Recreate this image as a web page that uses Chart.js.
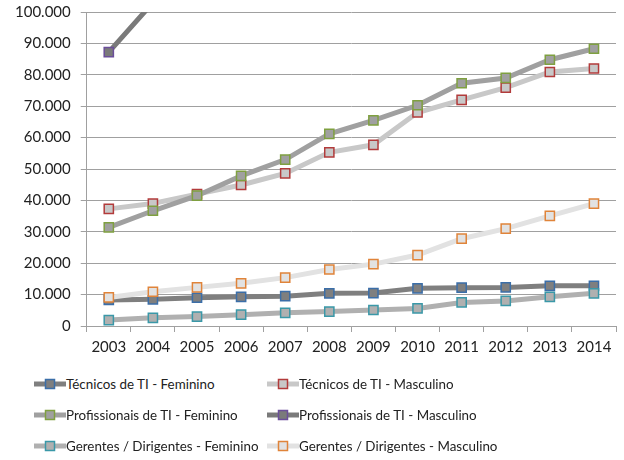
<!DOCTYPE html>
<html>
<head>
<meta charset="utf-8">
<script src="https://cdn.jsdelivr.net/npm/chart.js@4"></script>
<style>
  body { margin: 0; background: #fff; font-family: Lato, "Open Sans", sans-serif; }
  #wrap { position: relative; width: 624px; height: 362px; }
  #legend { display: grid; grid-template-columns: 233px 300px; margin-left: 34px; row-gap: 11px; margin-top: 12px; }
  .item { display: flex; align-items: center; font-size: 13.4px; color: #222; height: 20px; }
  .item canvas { margin-right: 0; }
</style>
</head>
<body>
<div id="wrap"><canvas id="plot"></canvas></div>
<div id="legend"></div>
<script>
const years = ["2003", "2004", "2005", "2006", "2007", "2008", "2009", "2010", "2011", "2012", "2013", "2014"];

const names = [
  "Técnicos de TI - Feminino",
  "Técnicos de TI - Masculino",
  "Profissionais de TI - Feminino",
  "Profissionais de TI - Masculino",
  "Gerentes / Dirigentes - Feminino",
  "Gerentes / Dirigentes - Masculino"
];

const tecFem = [8300, 8500, 9000, 9300, 9500, 10400, 10500, 12000, 12200, 12300, 12800, 12800];
const tecMasc = [37300, 39000, 42000, 44900, 48600, 55300, 57700, 68000, 72000, 75900, 80900, 82000];
const profFem = [31400, 36700, 41500, 47800, 53000, 61200, 65500, 70300, 77300, 79000, 84800, 88300];
const profMasc = [87200, 103000, 115000, 125000, 135000, 150000, 160000, 175000, 185000, 195000, 200000, 210000];
const gerFem = [1900, 2600, 3000, 3600, 4200, 4600, 5100, 5600, 7500, 8000, 9300, 10400];
const gerMasc = [9100, 10900, 12300, 13600, 15400, 18000, 19700, 22600, 27800, 31000, 35100, 39000];

const yTicks = [0, 10000, 20000, 30000, 40000, 50000, 60000, 70000, 80000, 90000, 100000];

const lineColors = ["#7f7f7f", "#c8c8c8", "#a0a0a0", "#7a7a7a", "#b0b0b0", "#e2e2e2"];
const borderColors = ["#3b6ea8", "#b23b3b", "#7fa040", "#6b4e9a", "#3a98a8", "#e0843a"];
const fillColors = ["#7f7f7f", "#c8c8c8", "#a0a0a0", "#7a7a7a", "#b0b0b0", "#e2e2e2"];

const series = [tecFem, tecMasc, profFem, profMasc, gerFem, gerMasc];

const fmt = v => String(v).replace(/\B(?=(\d{3})+(?!\d))/g, ".");

const datasets = series.map((data, i) => ({
  label: names[i],
  data,
  borderColor: lineColors[i],
  borderWidth: 5,
  pointStyle: "rect",
  pointRadius: 6.5,
  pointBorderWidth: 1.5,
  pointBorderColor: borderColors[i],
  pointBackgroundColor: fillColors[i],
  tension: 0,
  order: 6 - i
}));

const ctx = document.querySelector("#plot").getContext("2d");
new Chart(ctx, {
  type: "line",
  data: { labels: years, datasets },
  options: {
    responsive: true,
    maintainAspectRatio: false,
    animation: false,
    layout: { padding: { left: 5, right: 8, top: 0, bottom: 0 } },
    plugins: { legend: { display: false }, tooltip: { enabled: false } },
    scales: {
      x: {
        offset: true,
        grid: { display: true, drawOnChartArea: false, offset: true, tickLength: 6, color: "#a0a0a0" },
        border: { color: "#a0a0a0" },
        ticks: { color: "#222", font: { family: "Lato", size: 15 }, padding: 6, maxRotation: 0 }
      },
      y: {
        min: 0,
        max: 100000,
        afterBuildTicks: axis => { axis.ticks = yTicks.map(v => ({ value: v })); },
        afterFit: axis => { axis.paddingTop = 12; },
        grid: { color: "#a0a0a0", tickLength: 6 },
        border: { color: "#a0a0a0" },
        ticks: { color: "#222", font: { family: "Lato", size: 15 }, padding: 10, callback: v => fmt(v) }
      }
    }
  }
});

const legend = document.querySelector("#legend");
names.forEach((name, i) => {
  const item = document.createElement("div");
  item.className = "item";
  const sw = document.createElement("canvas");
  sw.width = 32; sw.height = 14;
  const c = sw.getContext("2d");
  c.strokeStyle = lineColors[i];
  c.lineWidth = 5;
  c.beginPath(); c.moveTo(0, 7); c.lineTo(32, 7); c.stroke();
  c.fillStyle = fillColors[i];
  c.fillRect(11.5, 2.5, 9, 9);
  c.strokeStyle = borderColors[i];
  c.lineWidth = 1.5;
  c.strokeRect(11.5, 2.5, 9, 9);
  item.appendChild(sw);
  const t = document.createElement("span");
  t.textContent = name;
  item.appendChild(t);
  legend.appendChild(item);
});
</script>
</body>
</html>
